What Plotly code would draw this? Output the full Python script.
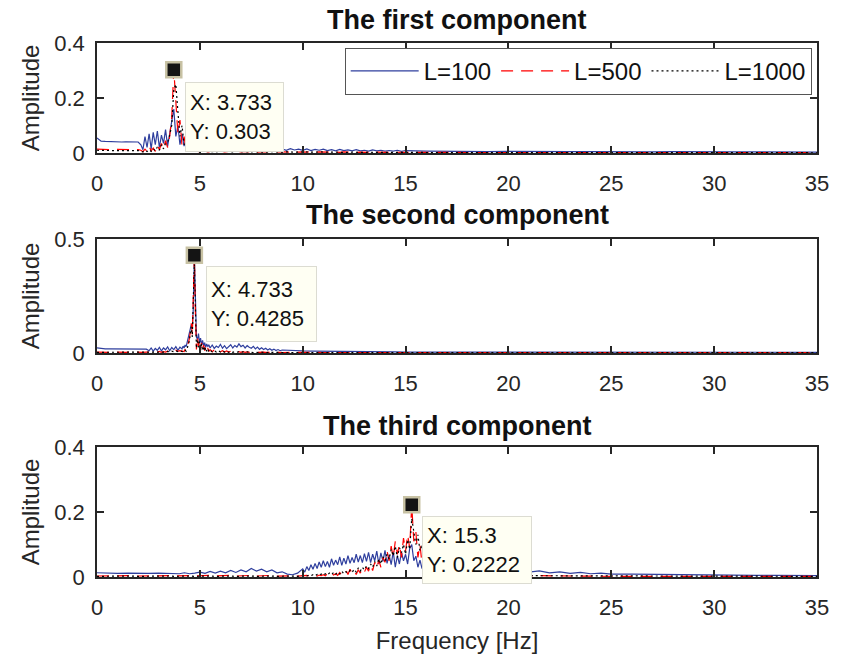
import numpy as np
import plotly.graph_objects as go

# ---------------- DATA ----------------
# frequency grids (start, step, count) per panel
P1_GRID = [(0.0, 0.2, 11), (2.133, 0.1, 29), (5.2, 0.2, 50), (16.0, 1.0, 20)]
P2_GRID = [(0.0, 0.2, 13), (2.533, 0.1, 17), (4.183, 0.05, 26), (5.5, 0.1, 36), (9.5, 0.5, 12), (16.0, 1.0, 20)]
P3_GRID = [(0.0, 0.5, 8), (3.75, 0.25, 25), (10.0, 0.1, 71), (17.5, 0.5, 16), (26.0, 1.0, 10)]

# ---- first component ----
p1_L100 = [0.055, 0.043, 0.042, 0.041, 0.041, 0.041, 0.040, 0.041, 0.040, 0.040, 0.040,
           0.030, 0.012, 0.060, 0.020, 0.070, 0.015, 0.075, 0.030, 0.080, 0.020,
           0.065, 0.035, 0.085, 0.025, 0.070, 0.110, 0.160, 0.060, 0.100, 0.030,
           0.070, 0.025, 0.050, 0.020, 0.035, 0.015, 0.028, 0.012, 0.022,
           0.014, 0.022, 0.012, 0.019, 0.013, 0.021, 0.012, 0.018, 0.014, 0.020,
           0.011, 0.017, 0.013, 0.019, 0.012, 0.016, 0.011, 0.018, 0.012, 0.015,
           0.010, 0.016, 0.011, 0.014, 0.010, 0.015, 0.009, 0.013, 0.010, 0.014,
           0.009, 0.012, 0.008, 0.013, 0.009, 0.011, 0.008, 0.012, 0.008, 0.010,
           0.007, 0.011, 0.008, 0.010, 0.007, 0.009, 0.007, 0.010, 0.006, 0.009,
           0.007, 0.006, 0.007, 0.005, 0.006, 0.005, 0.006, 0.005, 0.005, 0.004,
           0.005, 0.004, 0.005, 0.004, 0.004, 0.004, 0.004, 0.003, 0.004, 0.003]
p1_L500 = [0.014, 0.013, 0.013, 0.013, 0.012, 0.013, 0.013, 0.012, 0.013, 0.012, 0.012,
           0.010, 0.005, 0.014, 0.006, 0.025, 0.008, 0.018, 0.006, 0.030, 0.012,
           0.035, 0.015, 0.045, 0.020, 0.060, 0.130, 0.303, 0.190, 0.070, 0.120,
           0.025, 0.060, 0.010, 0.030, 0.008, 0.015, 0.006, 0.010, 0.005,
           0.008, 0.004, 0.007, 0.005, 0.008, 0.004, 0.006, 0.005, 0.007, 0.004,
           0.006, 0.004, 0.006, 0.003, 0.005, 0.004, 0.006, 0.003, 0.005, 0.004,
           0.005, 0.003, 0.005, 0.003, 0.004, 0.003, 0.005, 0.003, 0.004, 0.003,
           0.004, 0.003, 0.004, 0.002, 0.004, 0.003, 0.004, 0.002, 0.003, 0.002,
           0.003, 0.002, 0.003, 0.002, 0.003, 0.002, 0.003, 0.002, 0.003, 0.002,
           0.002, 0.002, 0.003, 0.002, 0.002, 0.002, 0.002, 0.002, 0.002, 0.002,
           0.002, 0.002, 0.002, 0.001, 0.002, 0.001, 0.002, 0.001, 0.002, 0.001]
p1_L1000 = [0.010, 0.009, 0.009, 0.009, 0.009, 0.009, 0.009, 0.009, 0.009, 0.009, 0.009,
            0.006, 0.004, 0.009, 0.005, 0.012, 0.006, 0.015, 0.008, 0.022, 0.010,
            0.030, 0.015, 0.035, 0.040, 0.065, 0.100, 0.230, 0.250, 0.150, 0.060,
            0.100, 0.030, 0.045, 0.015, 0.020, 0.008, 0.010, 0.006, 0.007,
            0.006, 0.005, 0.006, 0.004, 0.007, 0.005, 0.006, 0.004, 0.006, 0.005,
            0.005, 0.004, 0.005, 0.004, 0.005, 0.003, 0.005, 0.004, 0.004, 0.003,
            0.004, 0.003, 0.004, 0.003, 0.004, 0.003, 0.004, 0.003, 0.004, 0.003,
            0.003, 0.003, 0.003, 0.002, 0.003, 0.002, 0.003, 0.002, 0.003, 0.002,
            0.003, 0.002, 0.003, 0.002, 0.002, 0.002, 0.003, 0.002, 0.002, 0.002,
            0.002, 0.002, 0.002, 0.002, 0.002, 0.002, 0.002, 0.002, 0.002, 0.002,
            0.002, 0.002, 0.001, 0.002, 0.001, 0.002, 0.001, 0.002, 0.001, 0.001]

# ---- second component ----
p2_L100 = [0.022, 0.019, 0.018, 0.018, 0.018, 0.018, 0.018, 0.018, 0.018, 0.018, 0.018, 0.018, 0.017,
           0.010, 0.022, 0.008, 0.020, 0.012, 0.025, 0.009, 0.022, 0.014, 0.027, 0.010, 0.024, 0.015,
           0.028, 0.012, 0.026, 0.018,
           0.030, 0.022, 0.035, 0.028, 0.045, 0.060, 0.080, 0.105, 0.125, 0.110, 0.200, 0.420, 0.250,
           0.070, 0.060, 0.085, 0.045, 0.065, 0.035, 0.055, 0.030, 0.045, 0.025, 0.040, 0.028, 0.036,
           0.022, 0.035, 0.020, 0.030, 0.024, 0.038, 0.021, 0.032, 0.019, 0.030,
           0.036, 0.022, 0.033, 0.026, 0.040, 0.028, 0.034, 0.022, 0.032, 0.025,
           0.021, 0.029, 0.018, 0.026, 0.016, 0.023, 0.015, 0.021, 0.013, 0.019,
           0.012, 0.017, 0.011, 0.015, 0.010, 0.013,
           0.010, 0.009, 0.008, 0.008, 0.007, 0.007, 0.006, 0.006, 0.005, 0.005, 0.005, 0.004,
           0.004, 0.004, 0.004, 0.003, 0.004, 0.003, 0.003, 0.003, 0.003, 0.003,
           0.003, 0.003, 0.003, 0.003, 0.003, 0.003, 0.002, 0.003, 0.002, 0.003]
p2_L500 = [0.004, 0.003, 0.004, 0.003, 0.004, 0.003, 0.004, 0.003, 0.004, 0.003, 0.004, 0.003, 0.004,
           0.004, 0.006, 0.003, 0.005, 0.004, 0.007, 0.003, 0.006, 0.004, 0.008, 0.005, 0.009, 0.006,
           0.012, 0.007, 0.010, 0.008,
           0.010, 0.006, 0.015, 0.010, 0.025, 0.040, 0.060, 0.090, 0.130, 0.080, 0.280, 0.4285, 0.180,
           0.015, 0.070, 0.030, 0.055, 0.015, 0.045, 0.012, 0.035, 0.010, 0.028, 0.008, 0.022, 0.007,
           0.015, 0.006, 0.014, 0.005, 0.012, 0.005, 0.010, 0.004, 0.009, 0.004,
           0.008, 0.004, 0.007, 0.004, 0.006, 0.003, 0.006, 0.003, 0.005, 0.003,
           0.005, 0.003, 0.004, 0.003, 0.004, 0.003, 0.004, 0.003, 0.004, 0.002,
           0.003, 0.002, 0.003, 0.002, 0.003, 0.002,
           0.003, 0.002, 0.003, 0.002, 0.003, 0.002, 0.002, 0.002, 0.002, 0.002, 0.002, 0.002,
           0.002, 0.002, 0.002, 0.002, 0.002, 0.002, 0.002, 0.002, 0.002, 0.002,
           0.002, 0.002, 0.002, 0.002, 0.002, 0.002, 0.002, 0.002, 0.002, 0.002]
p2_L1000 = [0.003, 0.003, 0.003, 0.003, 0.003, 0.003, 0.003, 0.003, 0.003, 0.003, 0.003, 0.003, 0.003,
            0.003, 0.005, 0.003, 0.004, 0.004, 0.006, 0.003, 0.005, 0.004, 0.007, 0.004, 0.008, 0.005,
            0.010, 0.006, 0.009, 0.007,
            0.008, 0.005, 0.012, 0.008, 0.020, 0.035, 0.050, 0.080, 0.115, 0.070, 0.250, 0.400, 0.210,
            0.020, 0.060, 0.025, 0.050, 0.012, 0.040, 0.010, 0.030, 0.008, 0.024, 0.007, 0.018, 0.006,
            0.012, 0.005, 0.011, 0.004, 0.010, 0.004, 0.009, 0.004, 0.008, 0.003,
            0.007, 0.003, 0.006, 0.003, 0.006, 0.003, 0.005, 0.003, 0.005, 0.003,
            0.004, 0.002, 0.004, 0.002, 0.004, 0.002, 0.003, 0.002, 0.003, 0.002,
            0.003, 0.002, 0.003, 0.002, 0.003, 0.002,
            0.002, 0.002, 0.002, 0.002, 0.002, 0.002, 0.002, 0.002, 0.002, 0.002, 0.002, 0.002,
            0.002, 0.002, 0.002, 0.002, 0.002, 0.002, 0.002, 0.002, 0.002, 0.002,
            0.002, 0.002, 0.002, 0.002, 0.002, 0.002, 0.002, 0.002, 0.002, 0.002]

# ---- third component ----
p3_L100 = [0.013, 0.011, 0.011, 0.012, 0.011, 0.011, 0.012, 0.011,
           0.012, 0.010, 0.013, 0.010, 0.012, 0.015, 0.011, 0.017, 0.012, 0.018, 0.013, 0.020, 0.014,
           0.022, 0.016, 0.026, 0.018, 0.024, 0.016, 0.022, 0.013, 0.016, 0.009, 0.007, 0.012,
           0.025, 0.015, 0.032, 0.020, 0.038, 0.024, 0.042, 0.026, 0.046, 0.030,
           0.050, 0.032, 0.048, 0.030, 0.056, 0.036, 0.052, 0.038, 0.062, 0.036,
           0.058, 0.040, 0.066, 0.042, 0.060, 0.044, 0.070, 0.046, 0.066, 0.044,
           0.072, 0.048, 0.076, 0.044, 0.070, 0.050, 0.080, 0.040, 0.074, 0.048,
           0.082, 0.042, 0.068, 0.038, 0.078, 0.030, 0.066, 0.040, 0.076, 0.050,
           0.070, 0.040, 0.088, 0.100, 0.050, 0.064, 0.030, 0.052, 0.026, 0.042,
           0.022, 0.032, 0.020, 0.028, 0.018, 0.025, 0.017, 0.023, 0.016, 0.022,
           0.016,
           0.020, 0.015, 0.021, 0.016, 0.022, 0.017, 0.021, 0.015, 0.019, 0.013, 0.016, 0.011, 0.014,
           0.010, 0.012, 0.009,
           0.009, 0.008, 0.007, 0.007, 0.006, 0.006, 0.005, 0.005, 0.005, 0.004]
p3_L500 = [0.003, 0.004, 0.003, 0.004, 0.003, 0.004, 0.003, 0.004,
           0.003, 0.004, 0.003, 0.004, 0.003, 0.004, 0.003, 0.005, 0.003, 0.004, 0.003, 0.005, 0.003,
           0.004, 0.003, 0.005, 0.003, 0.004, 0.003, 0.005, 0.003, 0.004, 0.003, 0.004, 0.003,
           0.004, 0.003, 0.005, 0.003, 0.006, 0.004, 0.005, 0.003, 0.006, 0.004,
           0.007, 0.004, 0.010, 0.005, 0.012, 0.006, 0.010, 0.005, 0.014, 0.006,
           0.012, 0.020, 0.008, 0.024, 0.010, 0.018, 0.008, 0.022, 0.012, 0.026,
           0.015, 0.030, 0.018, 0.038, 0.020, 0.045, 0.028, 0.052, 0.030, 0.060,
           0.045, 0.080, 0.050, 0.095, 0.060, 0.110, 0.070, 0.100, 0.060, 0.120,
           0.080, 0.130, 0.090, 0.2222, 0.110, 0.140, 0.060, 0.100, 0.040, 0.070,
           0.025, 0.040, 0.015, 0.030, 0.012, 0.020, 0.010, 0.015, 0.008, 0.012,
           0.007,
           0.006, 0.005, 0.005, 0.004, 0.005, 0.004, 0.004, 0.003, 0.004, 0.003, 0.003, 0.003, 0.003,
           0.002, 0.003, 0.002,
           0.002, 0.002, 0.002, 0.002, 0.002, 0.002, 0.002, 0.002, 0.002, 0.002]
p3_L1000 = [0.002, 0.003, 0.002, 0.003, 0.002, 0.003, 0.002, 0.003,
            0.002, 0.003, 0.002, 0.003, 0.002, 0.003, 0.002, 0.003, 0.002, 0.003, 0.002, 0.003, 0.002,
            0.003, 0.002, 0.003, 0.002, 0.003, 0.002, 0.003, 0.002, 0.003, 0.002, 0.003, 0.002,
            0.003, 0.005, 0.003, 0.006, 0.004, 0.007, 0.004, 0.008, 0.005, 0.009,
            0.005, 0.010, 0.006, 0.012, 0.007, 0.014, 0.008, 0.015, 0.009, 0.018,
            0.010, 0.016, 0.012, 0.020, 0.014, 0.024, 0.015, 0.028, 0.018, 0.030,
            0.022, 0.034, 0.026, 0.040, 0.030, 0.048, 0.034, 0.055, 0.040, 0.062,
            0.050, 0.070, 0.055, 0.085, 0.065, 0.095, 0.060, 0.090, 0.075, 0.100,
            0.070, 0.115, 0.085, 0.180, 0.140, 0.100, 0.130, 0.080, 0.100, 0.050,
            0.060, 0.030, 0.040, 0.020, 0.028, 0.015, 0.020, 0.012, 0.015, 0.010,
            0.009,
            0.007, 0.006, 0.006, 0.005, 0.005, 0.004, 0.004, 0.004, 0.004, 0.003, 0.003, 0.003, 0.003,
            0.003, 0.002, 0.002,
            0.002, 0.002, 0.002, 0.002, 0.002, 0.002, 0.002, 0.002, 0.002, 0.002]

series_names = ["L=100", "L=500", "L=1000"]
panel_titles = ["The first component", "The second component", "The third component"]
datatips = [(3.733, 0.303), (4.733, 0.4285), (15.3, 0.2222)]
y_ranges = [[0, 0.4], [0, 0.5], [0, 0.4]]
y_ticks = [[0, 0.2, 0.4], [0, 0.5], [0, 0.2, 0.4]]
y_ticktext = [["0", "0.2", "0.4"], ["0", "0.5"], ["0", "0.2", "0.4"]]
x_ticks = [0, 5, 10, 15, 20, 25, 30, 35]


def grid(segs):
    return np.concatenate([np.round(s + d * np.arange(n), 4) for s, d, n in segs])


panels = [
    (grid(P1_GRID), [p1_L100, p1_L500, p1_L1000]),
    (grid(P2_GRID), [p2_L100, p2_L500, p2_L1000]),
    (grid(P3_GRID), [p3_L100, p3_L500, p3_L1000]),
]

# ---------------- STYLE ----------------
W, H = 841, 664
ML, MR, MT, MB = 97, 21, 43, 87
domains = [[0.794, 1.0], [0.4195, 0.633], [0.0, 0.2434]]
colors = ["#2F3F9E", "#FF0000", "#000000"]
widths = [1.2, 1.2, 1.2]
dashes = ["solid", "12px,8px", "2px,3px"]
AX = "#262626"
FONT = "Liberation Sans, Arial, Helvetica, sans-serif"

fig = go.Figure()
for i, (f, series) in enumerate(panels):
    xa = "x" if i == 0 else f"x{i+1}"
    ya = "y" if i == 0 else f"y{i+1}"
    for j, vals in enumerate(series):
        n = min(len(f), len(vals))
        fig.add_trace(go.Scatter(
            x=f[:n], y=vals[:n], mode="lines", name=series_names[j],
            line=dict(color=colors[j], width=widths[j], dash=dashes[j]),
            xaxis=xa, yaxis=ya, showlegend=(i == 0), legendgroup=series_names[j],
        ))
    tx, ty = datatips[i]
    fig.add_trace(go.Scatter(
        x=[tx], y=[ty], mode="markers", showlegend=False,
        marker=dict(symbol="square", size=15, color="#141414",
                    line=dict(color="#C8C2A4", width=2.5)),
        xaxis=xa, yaxis=ya,
    ))

layout = dict(
    width=W, height=H,
    margin=dict(l=ML, r=MR, t=MT, b=MB),
    paper_bgcolor="white", plot_bgcolor="white",
    font=dict(family=FONT, color=AX, size=22),
    showlegend=True,
    legend=dict(
        orientation="h", x=0.344, y=0.991, xanchor="left", yanchor="top",
        bgcolor="white", bordercolor="#555555", borderwidth=1,
        font=dict(size=24, color="#111111"), itemwidth=68,
        tracegroupgap=0, traceorder="normal",
    ),
)
for i in range(3):
    xk = "xaxis" if i == 0 else f"xaxis{i+1}"
    yk = "yaxis" if i == 0 else f"yaxis{i+1}"
    ya = "y" if i == 0 else f"y{i+1}"
    xa = "x" if i == 0 else f"x{i+1}"
    layout[xk] = dict(
        domain=[0, 1], anchor=ya, range=[0, 35], tickvals=x_ticks,
        ticks="inside", ticklen=7, tickwidth=1.5, tickcolor=AX,
        showline=True, linecolor=AX, linewidth=1.5, mirror="ticks",
        showgrid=False, zeroline=False, tickfont=dict(size=22, color=AX),
        ticklabelstandoff=10,
    )
    layout[yk] = dict(
        domain=domains[i], anchor=xa, range=y_ranges[i],
        tickvals=y_ticks[i], ticktext=y_ticktext[i],
        ticks="inside", ticklen=7, tickwidth=1.5, tickcolor=AX,
        showline=True, linecolor=AX, linewidth=1.5, mirror="ticks",
        showgrid=False, zeroline=False, tickfont=dict(size=22, color=AX),
        title=dict(text="Amplitude", font=dict(size=24, color=AX), standoff=8),
        ticklabelstandoff=6,
    )
layout["xaxis3"]["title"] = dict(text="Frequency [Hz]", font=dict(size=24, color=AX), standoff=13)
fig.update_layout(**layout)

# panel titles
title_y = [1.043, 0.678, 0.2828]
for i in range(3):
    fig.add_annotation(text=f"<b>{panel_titles[i]}</b>", xref="paper", yref="paper",
                       x=0.5, y=title_y[i], xanchor="center", yanchor="middle",
                       showarrow=False, font=dict(size=27, color="#111111"))

# datatip boxes
box_pos = [(4.27, 0.258, 97, 68), (5.29, 0.381, 109, 74), (15.79, 0.189, 108, 66)]
PAD = 4
for i in range(3):
    xa = "x" if i == 0 else f"x{i+1}"
    ya = "y" if i == 0 else f"y{i+1}"
    tx, ty = datatips[i]
    bx, by, bw, bh = box_pos[i]
    fig.add_annotation(text=f"X: {tx:g}<br>Y: {ty:g}", xref=xa, yref=ya, x=bx, y=by,
                       xanchor="left", yanchor="top", showarrow=False, align="left",
                       width=bw - 2 * PAD, height=bh - 2 * PAD, bgcolor="#FFFFF3",
                       bordercolor="#DCDCD2", borderwidth=1, borderpad=PAD,
                       font=dict(size=22, color="#111111"))

fig.write_html("out.html")
